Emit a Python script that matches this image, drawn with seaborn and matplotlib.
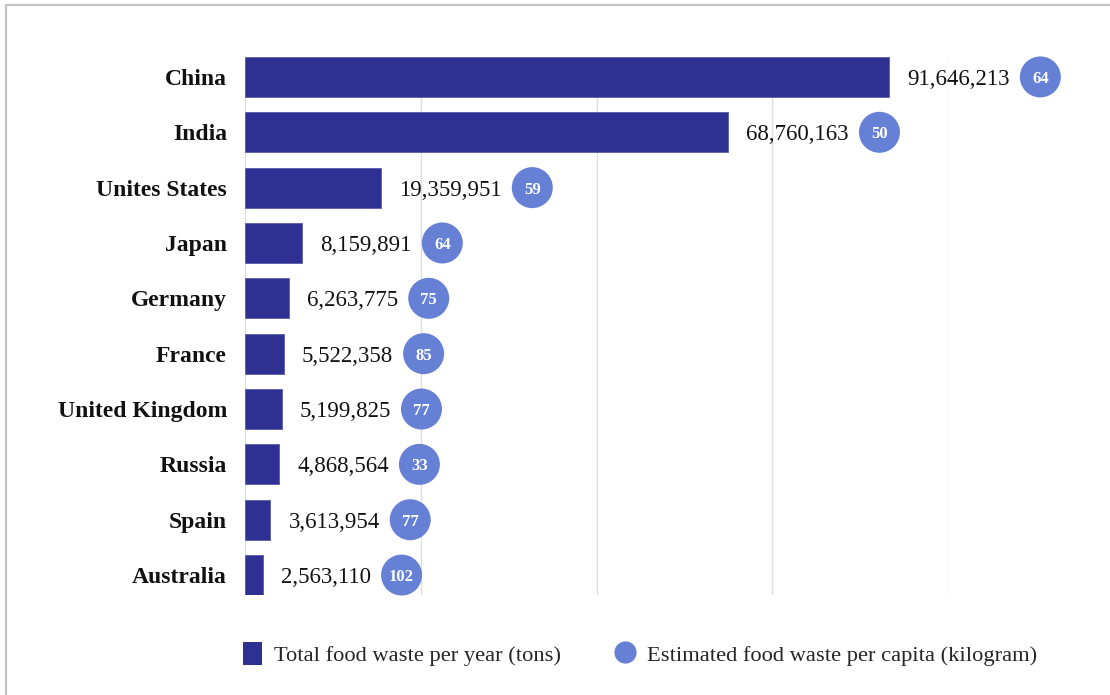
import matplotlib
matplotlib.use("Agg")
import matplotlib.pyplot as plt
from matplotlib.patches import Patch
from matplotlib.lines import Line2D
import numpy as np
import pandas as pd
import seaborn as sns

countries = ["China", "India", "Unites States", "Japan", "Germany", "France",
             "United Kingdom", "Russia", "Spain", "Australia"]
total_tons = [91646213, 68760163, 19359951, 8159891, 6263775, 5522358,
              5199825, 4868564, 3613954, 2563110]
per_capita_kg = [64, 50, 59, 64, 75, 85, 77, 33, 77, 102]
x_ticks = [0, 25_000_000, 50_000_000, 75_000_000, 100_000_000]

BAR_COLOR = "#2E3092"
DOT_COLOR = "#6680D6"
SERIF = "Liberation Serif"

sns.set_theme(style="white")
plt.rcParams["font.family"] = [SERIF, "DejaVu Serif"]

df = pd.DataFrame({"country": countries, "tons": total_tons, "kg": per_capita_kg})

fig = plt.figure(figsize=(11.1, 6.95), dpi=100)
ax = fig.add_axes([245 / 1110, 100 / 695, 703 / 1110, 538 / 695])

sns.barplot(data=df, y="country", x="tons", color=BAR_COLOR, saturation=1,
            width=0.72, orient="h", ax=ax, zorder=3)
for p in ax.patches:
    p.set_edgecolor("#5a5cb0")
    p.set_linewidth(0.6)

ax.set_xlim(0, x_ticks[-1])
ax.set_ylim(len(countries) - 1 + 0.36, -0.36)
ax.set_xticks(x_ticks)
ax.set_xticklabels([])
ax.grid(axis="x", color="#dedede", linewidth=1.0, zorder=0)
ax.grid(axis="y", visible=False)
for s in ax.spines.values():
    s.set_visible(False)
ax.set_xlabel("")
ax.set_ylabel("")
ax.tick_params(axis="y", length=0, pad=13)
ax.tick_params(axis="x", length=0)
for lbl in ax.get_yticklabels():
    lbl.set_fontweight("bold")
    lbl.set_fontsize(17)
    lbl.set_color("#111111")
    lbl.set_verticalalignment("center_baseline")

# value labels to the right of each bar
ypos = np.arange(len(countries))
value_texts = []
for y, v in zip(ypos, total_tons):
    t = ax.annotate(f"{v:,}", xy=(v, y), xytext=(13, 0), textcoords="offset points",
                    ha="left", va="center_baseline", fontsize=16.5, color="#111111",
                    annotation_clip=False)
    value_texts.append(t)

# per-capita bubbles placed just after each value label
fig.canvas.draw()
renderer = fig.canvas.get_renderer()
inv = ax.transData.inverted()
radius_px = 20.5
dot_x = []
for y, t in zip(ypos, value_texts):
    bb = t.get_window_extent(renderer)
    yd = ax.transData.transform((0, y))[1]
    dot_x.append(inv.transform((bb.x1 + 10 + radius_px, yd))[0])

diam_pt = 2 * radius_px * 72 / fig.dpi
ax.scatter(dot_x, ypos, s=diam_pt ** 2, color=DOT_COLOR, edgecolors="none",
           clip_on=False, zorder=4)
for x, y, k in zip(dot_x, ypos, per_capita_kg):
    ax.text(x, y, str(k), ha="center", va="center_baseline", fontsize=12,
            fontweight="bold", color="white", zorder=5, clip_on=False)

# legend below the plot
handles = [
    Patch(facecolor=BAR_COLOR, edgecolor="none",
          label="Total food waste per year (tons)"),
    Line2D([], [], marker="o", linestyle="none", markersize=16,
           markerfacecolor=DOT_COLOR, markeredgecolor="none",
           label="Estimated food waste per capita (kilogram)"),
]
fig.legend(handles=handles, loc="center", bbox_to_anchor=(640 / 1110, 1 - 654 / 695),
           ncol=2, frameon=False, fontsize=16.2, handlelength=0.85, handleheight=1.2,
           handletextpad=0.55, columnspacing=2.4)

# thin frame along the top and left edges
fig.add_artist(Line2D([6 / 1110, 1], [1 - 5 / 695, 1 - 5 / 695],
                      transform=fig.transFigure, color="#c4c4c4", linewidth=1.6))
fig.add_artist(Line2D([6 / 1110, 6 / 1110], [0, 1 - 5 / 695],
                      transform=fig.transFigure, color="#c4c4c4", linewidth=1.6))

fig.savefig("out.png", dpi=100, facecolor="white")
